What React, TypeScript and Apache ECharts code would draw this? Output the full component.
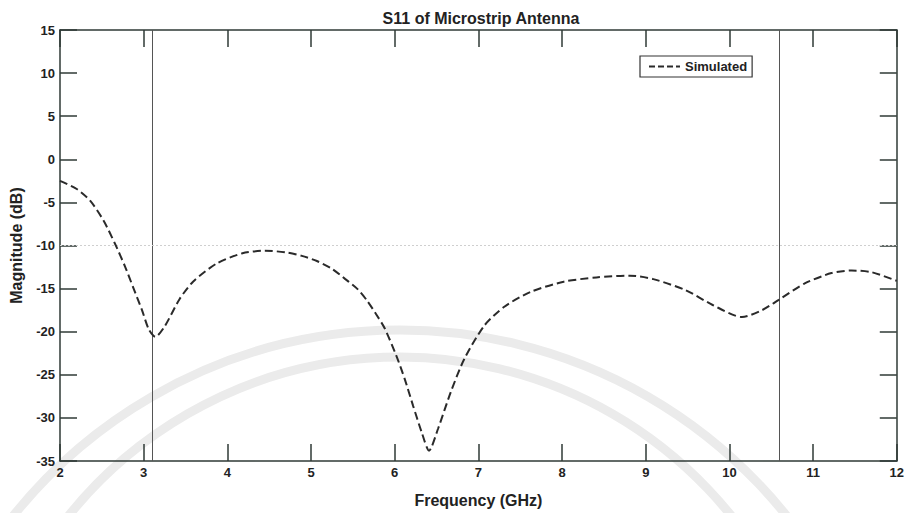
import React, { useEffect, useRef } from "react";
import * as echarts from "echarts";

const freqGHz = [2.0, 2.2, 2.36, 2.52, 2.66, 2.78, 2.88, 2.98, 3.06, 3.14, 3.25, 3.43, 3.59, 3.87, 4.18, 4.45, 4.7, 4.89, 5.07, 5.25, 5.41, 5.55, 5.67, 5.78, 5.88, 6.02, 6.12, 6.22, 6.32, 6.41, 6.52, 6.67, 6.83, 7.07, 7.31, 7.62, 8.02, 8.41, 8.81, 9.09, 9.48, 9.8, 10.15, 10.39, 10.59, 10.9, 11.22, 11.46, 11.7, 12.0];
const s11dB = [-2.5, -3.45, -4.8, -7.1, -9.85, -12.5, -15.0, -17.5, -19.7, -20.6, -19.4, -16.2, -14.2, -12.1, -10.9, -10.6, -10.8, -11.2, -11.8, -12.7, -13.9, -15.0, -16.4, -18.0, -19.6, -22.8, -25.5, -28.6, -31.6, -33.8, -31.2, -27.0, -23.2, -19.3, -17.1, -15.4, -14.2, -13.7, -13.5, -13.9, -15.2, -16.9, -18.3, -17.5, -16.3, -14.4, -13.2, -12.9, -13.1, -14.1];
const bandEdgesGHz = [3.1, 10.6];
const thresholdDB = -10;
const seriesName = "Simulated";
const titleText = "S11 of Microstrip Antenna";
const xName = "Frequency (GHz)";
const yName = "Magnitude (dB)";

const FONT = "Arial, 'Liberation Sans', sans-serif";
const AX = "#2f3a36";

export default function App() {
  const ref = useRef<HTMLDivElement>(null);
  useEffect(() => {
    if (!ref.current) return;
    const chart = echarts.init(ref.current, null, { renderer: "svg" });
    const data = freqGHz.map((f, i) => [f, s11dB[i]]);
    const axisCommon = {
      type: "value" as const,
      axisLine: { show: true, onZero: false, lineStyle: { color: AX, width: 1.5 } },
      axisTick: { show: true, inside: true, length: 17, lineStyle: { color: AX, width: 1.5 } },
      splitLine: { show: false },
    };
    chart.setOption({
      animation: false,
      backgroundColor: "#ffffff",
      title: {
        text: titleText,
        left: 476,
        top: 5,
        textAlign: "center",
        textStyle: { fontFamily: FONT, fontWeight: "bold", fontSize: 16, color: "#222" },
      },
      graphic: [
        { type: "circle", z: -10, silent: true, shape: { cx: 400, cy: 825, r: 495 }, style: { fill: "none", stroke: "#ebebeb", lineWidth: 9 } },
        { type: "circle", z: -10, silent: true, shape: { cx: 400, cy: 782, r: 425 }, style: { fill: "none", stroke: "#ebebeb", lineWidth: 9 } },
      ],
      legend: {
        left: 640,
        top: 56,
        orient: "horizontal",
        padding: [4, 5, 4, 8],
        itemWidth: 31,
        itemHeight: 14,
        itemGap: 4,
        borderColor: "#333",
        borderWidth: 1.2,
        backgroundColor: "#fff",
        itemStyle: { opacity: 0 },
        lineStyle: { color: "#2a2a2a", width: 2, type: [6, 3] },
        textStyle: { fontFamily: FONT, fontWeight: "bold", fontSize: 13, color: "#222" },
        data: [seriesName],
      },
      grid: { left: 56, right: 8, top: 30, bottom: 47, containLabel: false },
      xAxis: [
        {
          ...axisCommon,
          position: "bottom",
          min: 2,
          max: 12,
          interval: 1,
          name: xName,
          nameLocation: "middle",
          nameGap: 31,
          nameTextStyle: { fontFamily: FONT, fontWeight: "bold", fontSize: 16, color: "#222" },
          axisLabel: { fontFamily: FONT, fontWeight: "bold", fontSize: 13, color: "#222", margin: 5 },
        },
        {
          ...axisCommon,
          position: "top",
          min: 2,
          max: 12,
          interval: 1,
          axisLabel: { show: false },
        },
      ],
      yAxis: [
        {
          ...axisCommon,
          position: "left",
          min: -35,
          max: 15,
          interval: 5,
          name: yName,
          nameLocation: "middle",
          nameGap: 36,
          nameTextStyle: { fontFamily: FONT, fontWeight: "bold", fontSize: 16, color: "#222" },
          axisLabel: { fontFamily: FONT, fontWeight: "bold", fontSize: 13, color: "#222", margin: 5 },
        },
        {
          ...axisCommon,
          position: "right",
          min: -35,
          max: 15,
          interval: 5,
          axisLabel: { show: false },
        },
      ],
      series: [
        {
          name: seriesName,
          type: "line",
          xAxisIndex: 0,
          yAxisIndex: 0,
          data,
          smooth: 0.25,
          symbol: "none",
          lineStyle: { color: "#2a2a2a", width: 2, type: [8, 4] },
          itemStyle: { color: "#2a2a2a" },
          z: 5,
          markLine: {
            silent: true,
            symbol: "none",
            label: { show: false },
            data: [
              ...bandEdgesGHz.map((x) => ({ xAxis: x, lineStyle: { color: "#555", width: 1, type: "solid" as const } })),
              { yAxis: thresholdDB, lineStyle: { color: "#cfcfcf", width: 1, type: [2, 2] } },
            ],
          },
        },
      ],
    });
    return () => chart.dispose();
  }, []);
  return <div ref={ref} style={{ position: "absolute", left: 0, top: 0, width: 907, height: 513 }} />;
}
